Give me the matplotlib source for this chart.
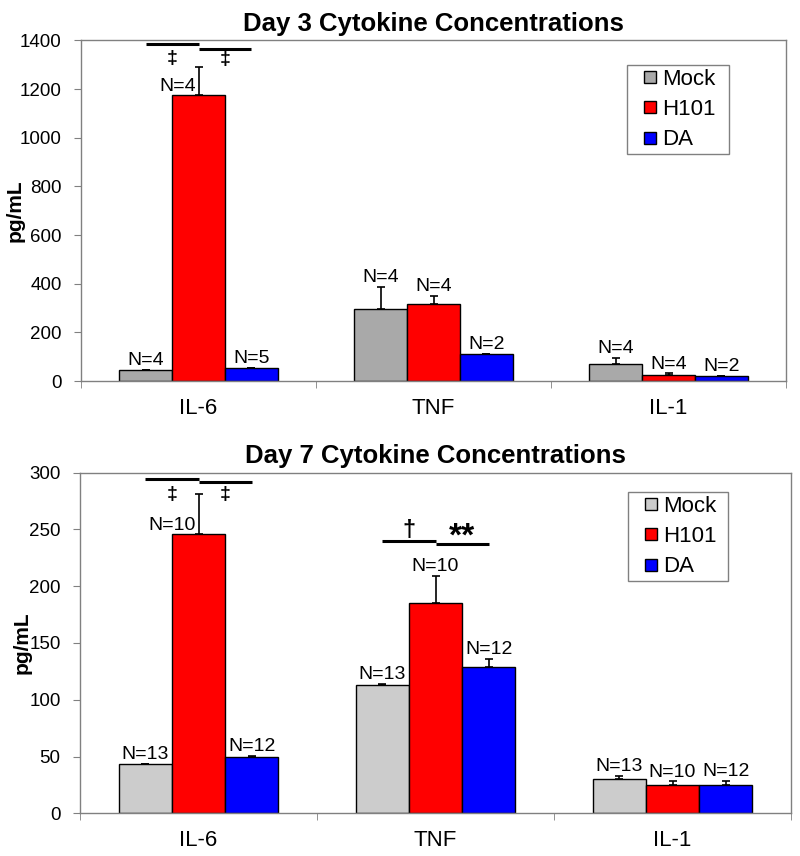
import matplotlib
matplotlib.use('Agg')

import matplotlib.pyplot as plt
import numpy as np
from matplotlib.lines import Line2D

plt.rcParams['font.family'] = ['Liberation Sans', 'DejaVu Sans']

categories = ['IL-6', 'TNF', 'IL-1']
groups = ['Mock', 'H101', 'DA']

# day 3 means, upper error, n
d3_mock = [45, 296, 69]
d3_h101 = [1175, 316, 25]
d3_da = [52, 110, 19]
d3_mock_err = [2, 92, 27]
d3_h101_err = [115, 35, 6]
d3_da_err = [3, 2, 2]
d3_mock_n = [4, 4, 4]
d3_h101_n = [4, 4, 4]
d3_da_n = [5, 2, 2]

# day 7
d7_mock = [43, 113, 30]
d7_h101 = [246, 185, 25]
d7_da = [50, 129, 25]
d7_mock_err = [0.5, 1, 2.7]
d7_h101_err = [35, 24, 3]
d7_da_err = [0.3, 7, 3.5]
d7_mock_n = [13, 13, 13]
d7_h101_n = [10, 10, 10]
d7_da_n = [12, 12, 12]

# significance marks: (category, from group, to group, line height, symbol, symbol height)
d3_sig = [(0, 0, 1, 1384, '\u2021', 1325),
          (0, 1, 2, 1365, '\u2021', 1321)]
d7_sig = [(0, 0, 1, 294.5, '\u2021', 281),
          (0, 1, 2, 291.5, '\u2021', 281),
          (1, 0, 1, 240, '\u2020', 249),
          (1, 1, 2, 237, '**', 243.5)]
sym_size = {'\u2021': 14, '\u2020': 17, '**': 24}

width = 0.225
x = np.arange(len(categories))
offsets = [-width, 0, width]
grey = '#808080'


def draw(ax, means, errs, ns, colors, ymax, ystep, title, sig, leg_box, ylab_x):
    for i in range(3):
        xs = x + offsets[i]
        ax.bar(xs, means[i], width, color=colors[i], edgecolor='black',
               linewidth=1, zorder=2)
        ax.errorbar(xs, means[i], yerr=[np.zeros(3), errs[i]], fmt='none',
                    ecolor='black', elinewidth=1.2, capsize=3, capthick=1.2,
                    zorder=3)
        for j in range(3):
            label = f'N={ns[i][j]}'
            if i == 1 and j == 0:
                # big IL-6 bar: label tucked left of the error bar
                ax.annotate(label, (xs[j], means[i][j]), xytext=(-2, 0),
                            textcoords='offset points', ha='right',
                            va='bottom', fontsize=14)
            else:
                ax.annotate(label, (xs[j], means[i][j] + errs[i][j]),
                            xytext=(0, 0.5), textcoords='offset points',
                            ha='center', va='bottom', fontsize=14)

    for cat, g0, g1, y, sym, ys in sig:
        x0 = cat + offsets[g0]
        x1 = cat + offsets[g1]
        ax.plot([x0, x1], [y, y], color='black', lw=2.2,
                solid_capstyle='butt', zorder=4)
        ax.text((x0 + x1) / 2, ys, sym, ha='center', va='center',
                fontsize=sym_size[sym], fontweight='bold')

    ax.set_xlim(-0.5, 2.5)
    ax.set_ylim(0, ymax)
    ax.set_yticks(np.arange(0, ymax + 1, ystep))
    ax.set_xticks(x, categories)
    ax.set_xticks([-0.5, 0.5, 1.5, 2.5], minor=True)
    ax.tick_params(axis='x', which='major', length=0, labelsize=16, pad=12)
    ax.tick_params(axis='x', which='minor', length=5, color=grey,
                   direction='out')
    ax.tick_params(axis='y', length=5, color=grey, direction='out',
                   labelsize=13.5, pad=9)
    for sp in ax.spines.values():
        sp.set_color(grey)
        sp.set_linewidth(1)

    ax.set_title(title, fontsize=18.5, fontweight='bold', pad=7)
    ax.set_ylabel('pg/mL', fontsize=15, fontweight='bold')
    ax.yaxis.set_label_coords(ylab_x, 0.5)

    handles = [Line2D([], [], marker='s', linestyle='none', markersize=8,
                      markerfacecolor=c, markeredgecolor='black',
                      markeredgewidth=1) for c in colors]
    leg = ax.legend(handles, groups, loc='upper left', bbox_to_anchor=leg_box,
                    mode='expand', fontsize=16, frameon=True, fancybox=False,
                    edgecolor=grey, framealpha=1, borderpad=0.17,
                    borderaxespad=0, handlelength=1.69, handletextpad=-0.29,
                    labelspacing=0.42)
    leg.get_frame().set_linewidth(1)


fig = plt.figure(figsize=(8, 8.56), dpi=100)
ax1 = fig.add_axes([0.10125, 0.5549, 0.88125, 0.3978])
ax2 = fig.add_axes([0.1, 0.0499, 0.88875, 0.3979])

draw(ax1, [d3_mock, d3_h101, d3_da], [d3_mock_err, d3_h101_err, d3_da_err],
     [d3_mock_n, d3_h101_n, d3_da_n], ['#A9A9A9', '#FF0000', '#0000FF'],
     1400, 200, 'Day 3 Cytokine Concentrations', d3_sig,
     (0.7745, 0.5, 0.1447, 0.428), -0.0794)
draw(ax2, [d7_mock, d7_h101, d7_da], [d7_mock_err, d7_h101_err, d7_da_err],
     [d7_mock_n, d7_h101_n, d7_da_n], ['#CCCCCC', '#FF0000', '#0000FF'],
     300, 50, 'Day 7 Cytokine Concentrations', d7_sig,
     (0.7707, 0.5, 0.1406, 0.4433), -0.0675)

fig.savefig('out.png', dpi=100)
